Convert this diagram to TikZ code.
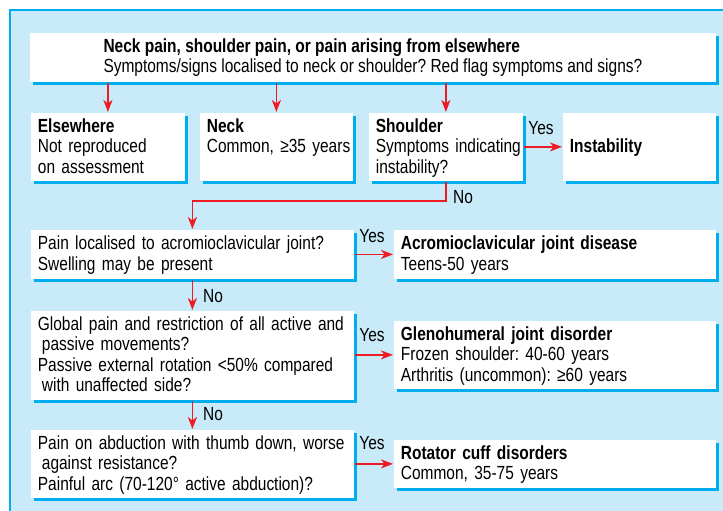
\documentclass[tikz,border=0pt]{standalone}
\usepackage{fontspec}
\setmainfont{Liberation Sans}[FakeStretch=0.815]
\usepackage{tikz}
\usetikzlibrary{arrows.meta,%
                shadows}

\definecolor{panelblue}{RGB}{200,234,249}
\definecolor{edgeblue}{RGB}{0,174,239}
\definecolor{arrowred}{RGB}{237,28,36}
\newcommand{\topgap}{\rule{0pt}{15.5pt}}
\newcommand{\botgap}{\rule[-4pt]{0pt}{4pt}}

\begin{document}
\frenchspacing
\begin{tikzpicture}[x=1pt, y=-1pt, >={Stealth[length=12pt,width=9pt,inset=3.5pt]}, line width=1.8pt]
    \tikzstyle{box}=[rectangle, fill=white, anchor=north west, align=left, inner xsep=7pt, inner ysep=0pt,
        font=\fontsize{19}{20.5}\selectfont,
        execute at begin node=\topgap, execute at end node=\botgap,
        drop shadow={shadow xshift=3pt, shadow yshift=-3pt, fill=edgeblue, opacity=1}]
    \tikzstyle{arr}=[->, draw=arrowred]
    \tikzstyle{lab}=[inner sep=0pt, font=\fontsize{19}{20.5}\selectfont]

    \clip (0,0) rectangle (723,511);
    \useasboundingbox (0,0) rectangle (723,511);
    \draw[draw=edgeblue, line width=1.5pt, fill=panelblue] (10,10) rectangle (760,560);

    \node[box, minimum width=686pt, minimum height=49pt] (top) at (29,32)
        {\textbf{Neck pain, shoulder pain, or pain arising from elsewhere}\\
         Symptoms/signs localised to neck or shoulder? Red flag symptoms and signs?};

    \node[box, minimum width=154pt, minimum height=68pt, text width=140pt] (els) at (30,112)
        {\textbf{Elsewhere}\\Not reproduced\\on assessment};
    \node[box, minimum width=153pt, minimum height=68pt, text width=139pt] (neck) at (199,112)
        {\textbf{Neck}\\\mbox{Common, ≥35 years}\\};
    \node[box, minimum width=154pt, minimum height=68pt, text width=140pt] (shoulder) at (368,112)
        {\textbf{Shoulder}\\\mbox{Symptoms indicating}\\instability?};
    \node[box, minimum width=153pt, minimum height=68pt, text width=139pt] (inst) at (562,112)
        {\textbf{Instability}};

    \node[box, minimum width=323pt, minimum height=49pt, text width=309pt] (acq) at (30,229)
        {Pain localised to acromioclavicular joint?\\Swelling may be present};
    \node[box, minimum width=322pt, minimum height=49pt, text width=308pt] (ac) at (393,229)
        {\textbf{Acromioclavicular joint disease}\\Teens-50 years};

    \node[box, minimum width=323pt, minimum height=89pt, text width=309pt] (ghq) at (30,310)
        {\mbox{Global pain and restriction of all active and}\\
         \hspace*{4pt}passive movements?\\
         \mbox{Passive external rotation <50\% compared}\\
         \hspace*{4pt}with unaffected side?};
    \node[box, minimum width=322pt, minimum height=68pt, text width=308pt] (gh) at (393,320)
        {\textbf{Glenohumeral joint disorder}\\Frozen shoulder: 40-60 years\\Arthritis (uncommon): ≥60 years};

    \node[box, minimum width=323pt, minimum height=68pt, text width=309pt] (rcq) at (30,429)
        {\mbox{Pain on abduction with thumb down, worse}\\
         \hspace*{4pt}against resistance?\\
         Painful arc (70-120° active abduction)?};
    \node[box, minimum width=322pt, minimum height=48pt, text width=308pt] (rc) at (393,439)
        {\textbf{Rotator cuff disorders}\\Common, 35-75 years};

    \draw[arr] (top.south -| els.north) -- (els.north);
    \draw[arr] (top.south -| neck.north) -- (neck.north);
    \draw[arr] (top.south -| shoulder.north) -- (shoulder.north);
    \draw[arr] (shoulder.east) -- (inst.west);
    \draw[arr] (shoulder.south) -- ++(0,19) -| (acq.north);
    \draw[arr] (acq.east) -- (ac.west);
    \draw[arr] (acq.south) -- (ghq.north);
    \draw[arr] (ghq.east |- gh.west) -- (gh.west);
    \draw[arr] (ghq.south) -- (rcq.north);
    \draw[arr] (rcq.east |- rc.west) -- (rc.west);

    \node[lab] (y1) at (541,128) {Yes};
    \node[lab] (n1) at (463,197) {No};
    \node[lab] (y2) at (372,236) {Yes};
    \node[lab] (n2) at (213,296) {No};
    \node[lab] (y3) at (372,335) {Yes};
    \node[lab] (n3) at (213,414) {No};
    \node[lab] (y4) at (372,443) {Yes};

\end{tikzpicture}
\end{document}
